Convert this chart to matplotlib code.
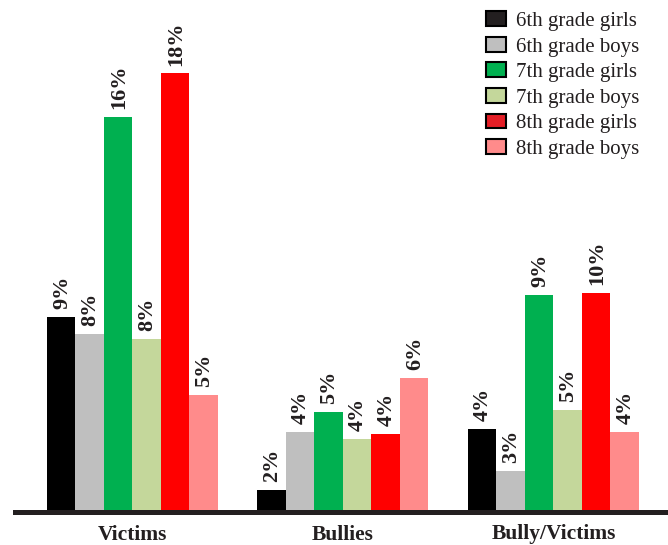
import numpy as np
import matplotlib.pyplot as plt
from matplotlib.patches import Patch

groups = ['Victims', 'Bullies', 'Bully/Victims']
series = ['6th grade girls', '6th grade boys', '7th grade girls',
          '7th grade boys', '8th grade girls', '8th grade boys']
colors = ['#000000', '#BFBFBF', '#00B050', '#C4D79B', '#FF0000', '#FF8B8B']
legend_colors = ['#231F20', '#BFBFBF', '#00B050', '#C4D79B', '#E41E26', '#FF8B8B']

# bar heights (percent) as drawn
victims = [8.0, 7.3, 16.2, 7.1, 18.0, 4.8]
bullies = [0.9, 3.3, 4.1, 3.0, 3.2, 5.5]
bully_victims = [3.4, 1.7, 8.9, 4.2, 9.0, 3.3]

# printed labels
victims_lbl = ['9%', '8%', '16%', '8%', '18%', '5%']
bullies_lbl = ['2%', '4%', '5%', '4%', '4%', '6%']
bully_victims_lbl = ['4%', '3%', '9%', '5%', '10%', '4%']

data = np.array([victims, bullies, bully_victims])
labels = [victims_lbl, bullies_lbl, bully_victims_lbl]

plt.rcParams['font.family'] = ['Liberation Serif', 'DejaVu Serif']

fig = plt.figure(figsize=(6.68, 5.45), dpi=100)
ax = fig.add_axes([15/668, 33/545, 653/668, 512/545])

x = np.arange(len(groups))
w = 0.1354
for i in range(len(series)):
    xs = x + (i - 2.5) * w
    ax.bar(xs, data[:, i], width=w, color=colors[i], linewidth=0)
    for j in range(len(groups)):
        ax.annotate(labels[j][i], (xs[j], data[j, i]), xytext=(0.5, 5.5),
                    textcoords='offset points', rotation=90, ha='center',
                    va='bottom', fontsize=16, fontweight='bold', color='#231F20')

ax.set_xlim(-0.558, 2.544)
ax.set_ylim(0, 21.0)
ax.axhline(0, color='#231F20', lw=3.6, clip_on=False)
for s in ['top', 'right', 'left', 'bottom']:
    ax.spines[s].set_visible(False)
ax.set_yticks([])
ax.set_xticks(x)
ax.set_xticklabels(groups, fontsize=15.5, fontweight='bold', color='#231F20')
ax.tick_params(axis='x', length=0, pad=9)

handles = [Patch(facecolor=c, edgecolor='#000000', linewidth=1.5) for c in legend_colors]
fig.legend(handles, series, loc='upper left', bbox_to_anchor=(473/668, 1.002),
           frameon=False, fontsize=15, handlelength=1.0, handleheight=0.72,
           handletextpad=0.45, labelspacing=0.28, borderaxespad=0.2,
           labelcolor='#231F20')

plt.savefig('out.png')
